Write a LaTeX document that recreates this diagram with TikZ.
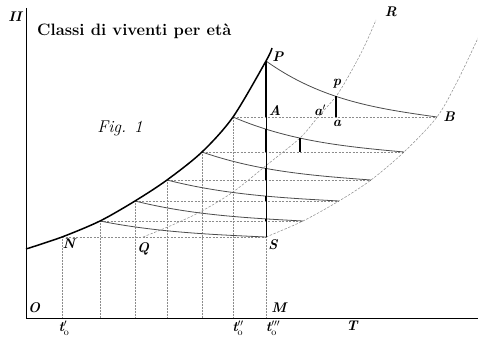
\documentclass[tikz,border=0pt]{standalone}
\usetikzlibrary{intersections,calc}
\begin{document}
\begin{tikzpicture}[x=1pt,y=-1pt,
  birth/.style={line width=1.5pt, black},
  decay/.style={line width=0.8pt, black!70},
  guide/.style={line width=0.5pt, black!45, densely dotted},
  lev/.style={line width=0.5pt, black!45, dash pattern=on 2pt off 1.5pt},
  shifted/.style={line width=0.5pt, black!45, dash pattern=on 2.5pt off 1.5pt},
  axis/.style={line width=0.8pt, black},
  thickseg/.style={line width=1.8pt, black},
  lbl/.style={font=\fontsize{14}{14}\selectfont\bfseries\itshape, inner sep=0pt},
  tlbl/.style={font=\fontsize{14}{14}\selectfont\bfseries\itshape, inner sep=0pt}]
\fill[white] (0,0) rectangle (478,339);
\useasboundingbox (0,0) rectangle (478,339);
% points
\coordinate (O) at (26,318);
\coordinate (Htop) at (26,8);
\coordinate (Tend) at (478,318);
\coordinate (n0) at (62,237);
\coordinate (n1) at (100,221);
\coordinate (n2) at (135,201);
\coordinate (n3) at (167,180);
\coordinate (n4) at (202,152);
\coordinate (n5) at (233,117);
\coordinate (n6) at (266,61);
\coordinate (r0) at (266,237);
\coordinate (r1) at (303,221);
\coordinate (r2) at (339,201);
\coordinate (r3) at (371,180);
\coordinate (r4) at (404,152);
\coordinate (r5) at (437,117);
\coordinate (M) at (266,318);
\coordinate (Q) at (143,237);
% axes
\draw[axis] (Htop) -- (O) -- (Tend);
% vertical guides
\foreach \i in {0,...,5} \draw[guide] (n\i) -- (n\i |- O);
\draw[guide] (r0) -- (M);
% horizontal levels
\foreach \i in {0,...,5} \draw[lev] (n\i) -- (r\i);
% shifted curves
\draw[shifted] plot[smooth] coordinates {(r0) (r1) (r2) (r3) (r4) (r5) (458,80) (478,38)};
\draw[shifted, name path=qr] plot[smooth] coordinates {(Q) (170,226) (200,212) (233,192) (268,164) (300,138) (318,117) (337,95) (352,70) (365,45) (376,20)};
% decaying curves
\draw[decay, name path=c6] (n6) .. controls (322,101) and (380,109) .. (r5);
\draw[decay, name path=c5] (n5) .. controls (290,141.5) and (347,146.8) .. (r4);
\draw[decay, name path=c4] (n4) .. controls (258.3,171.6) and (314.7,175.8) .. (r3);
\draw[decay, name path=c3] (n3) .. controls (224.3,194.7) and (281.7,197.9) .. (r2);
\draw[decay, name path=c2] (n2) .. controls (191,215) and (247,218) .. (r1);
\draw[decay, name path=c1] (n1) .. controls (156,232.2) and (212,234.6) .. (r0);
% vertical P-S
\draw[line width=0.7pt, name path=vert] (n6) -- (r0);
\draw[thickseg] (n6) -- (n6 |- n5);
\path[name intersections={of=vert and c5, by=v5}];
\path[name intersections={of=vert and c4, by=v4}];
\path[name intersections={of=vert and c3, by=v3}];
\path[name intersections={of=vert and c2, by=v2}];
\draw[thickseg] (v5) -- (v5 |- n4);
\draw[thickseg] (v4) -- (v4 |- n3);
\draw[thickseg] (v3) -- (v3 |- n2);
\draw[thickseg] (v2) -- (v2 |- n1);
\path[name intersections={of=qr and c6, by=pp}];
\path[name intersections={of=qr and c5, by=qq}];
\draw[line width=1.4pt] (pp) -- (pp |- n5);
\draw[line width=1.4pt] (qq) -- (qq |- n4);
% birth curve
\draw[birth] plot[smooth] coordinates {(26,249) (n0) (n1) (n2) (n3) (n4) (n5) (n6) (272,48)};
% texts
\node[font=\fontsize{16.5}{18}\selectfont\bfseries, anchor=west, inner sep=0pt] (title) at (37,31) {Classi di viventi per età};
\node[font=\fontsize{17}{19}\selectfont\itshape, inner sep=0pt] (fig) at (120,128) {Fig. 1};
\node[lbl] (lH) at (15,17) {II};
\node[lbl] (lO) at (34,308) {O};
\node[lbl] (lM) at (279,308) {M};
\node[lbl] (lT) at (352,326) {T};
\node[lbl] (lN) at (69,244) {N};
\node[lbl] (lQ) at (143,249) {Q};
\node[lbl] (lS) at (273,245) {S};
\node[lbl] (lA) at (275,111) {A};
\node[lbl] (la1) at (320,110) {a$'$};
\node[lbl] (la) at (337,123) {a};
\node[lbl] (lp) at (337,84) {p};
\node[lbl] (lP) at (278,57) {P};
\node[lbl] (lB) at (449,117) {B};
\node[lbl] (lR) at (391,12) {R};
\node[tlbl] (t1) at (64,328) {t$'_{\mathrm{o}}$};
\node[tlbl] (t2) at (238,328) {t$''_{\mathrm{o}}$};
\node[tlbl] (t3) at (273,328) {t$'''_{\mathrm{o}}$};
\end{tikzpicture}
\end{document}
